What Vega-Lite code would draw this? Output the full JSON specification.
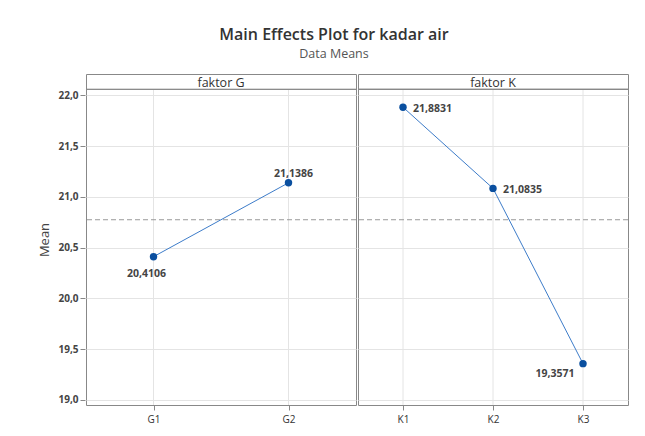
{
  "$schema": "https://vega.github.io/schema/vega-lite/v6.json",
  "padding": {"left": 38, "top": 26, "right": 17, "bottom": 5},
  "background": "white",
  "title": {
    "text": "Main Effects Plot for kadar air",
    "subtitle": "Data Means",
    "font": "Open Sans",
    "fontSize": 16,
    "fontWeight": 600,
    "color": "#333333",
    "subtitleFont": "Open Sans",
    "subtitleFontSize": 12.5,
    "subtitleColor": "#555555",
    "subtitlePadding": 5,
    "anchor": "middle",
    "offset": 13
  },
  "data": {
    "values": [
      {"factor": "faktor G", "level": "G1", "mean": 20.4106},
      {"factor": "faktor G", "level": "G2", "mean": 21.1386},
      {"factor": "faktor K", "level": "K1", "mean": 21.8831},
      {"factor": "faktor K", "level": "K2", "mean": 21.0835},
      {"factor": "faktor K", "level": "K3", "mean": 19.3571}
    ]
  },
  "facet": {
    "column": {
      "field": "factor",
      "type": "nominal",
      "title": null,
      "header": {
        "labelFont": "Open Sans",
        "labelFontSize": 12.5,
        "labelColor": "#333333",
        "labelPadding": -16,
        "labelBaseline": "top"
      }
    }
  },
  "spacing": 0,
  "resolve": {"scale": {"x": "independent"}},
  "spec": {
    "width": 270,
    "height": 331,
    "layer": [
      {
        "mark": {"type": "rule", "color": "#e4e4e4", "strokeWidth": 1},
        "encoding": {
          "x": {
            "field": "level",
            "type": "nominal",
            "scale": {"type": "point", "padding": 0.5},
            "axis": {
              "title": null,
              "grid": false,
              "domain": false,
              "labelAngle": 0,
              "labelFont": "Open Sans",
              "labelFontSize": 10,
              "labelColor": "#333333",
              "tickColor": "#888888",
              "tickSize": 5,
              "labelPadding": 4
            }
          },
          "y": {
            "datum": 18.95,
            "type": "quantitative",
            "scale": {"domain": [18.95, 22.21], "nice": false, "zero": false},
            "axis": {
              "title": "Mean",
              "titleFont": "Open Sans",
              "titleFontSize": 13,
              "titleFontWeight": "normal",
              "titleColor": "#444444",
              "titlePadding": 6,
              "values": [19, 19.5, 20, 20.5, 21, 21.5, 22],
              "format": ".1f",
              "labelFont": "Open Sans",
              "labelFontSize": 10,
              "labelFontWeight": "bold",
              "labelColor": "#444444",
              "tickColor": "#888888",
              "tickSize": 5,
              "labelPadding": 2,
              "domain": false,
              "gridColor": "#e4e4e4"
            }
          },
          "y2": {"datum": 22.059}
        }
      },
      {
        "mark": {"type": "rule", "color": "#999999", "strokeDash": [5, 3], "strokeWidth": 1},
        "encoding": {
          "y": {"aggregate": "mean", "field": "mean", "type": "quantitative"}
        }
      },
      {
        "mark": {"type": "rule", "color": "#888888", "strokeWidth": 1},
        "encoding": {"y": {"datum": 22.059, "type": "quantitative"}}
      },
      {
        "mark": {"type": "line", "color": "#3d7cc9", "strokeWidth": 1},
        "encoding": {
          "x": {"field": "level", "type": "nominal"},
          "y": {"field": "mean", "type": "quantitative"}
        }
      },
      {
        "mark": {"type": "point", "filled": true, "color": "#0a4f9f", "size": 55, "opacity": 1},
        "encoding": {
          "x": {"field": "level", "type": "nominal"},
          "y": {"field": "mean", "type": "quantitative"}
        }
      },
      {
        "transform": [{"filter": "datum.level === 'G1'"}],
        "mark": {"type": "text", "font": "Open Sans", "fontSize": 10.5, "fontWeight": "bold", "color": "#444444", "align": "center", "baseline": "middle", "dx": -7, "dy": 17},
        "encoding": {
          "x": {"field": "level", "type": "nominal"},
          "y": {"field": "mean", "type": "quantitative"},
          "text": {"field": "mean", "type": "quantitative", "format": ".4f"}
        }
      },
      {
        "transform": [{"filter": "datum.level === 'G2'"}],
        "mark": {"type": "text", "font": "Open Sans", "fontSize": 10.5, "fontWeight": "bold", "color": "#444444", "align": "center", "baseline": "middle", "dx": 5, "dy": -9},
        "encoding": {
          "x": {"field": "level", "type": "nominal"},
          "y": {"field": "mean", "type": "quantitative"},
          "text": {"field": "mean", "type": "quantitative", "format": ".4f"}
        }
      },
      {
        "transform": [{"filter": "datum.level === 'K1' || datum.level === 'K2'"}],
        "mark": {"type": "text", "font": "Open Sans", "fontSize": 10.5, "fontWeight": "bold", "color": "#444444", "align": "left", "baseline": "middle", "dx": 10, "dy": 2},
        "encoding": {
          "x": {"field": "level", "type": "nominal"},
          "y": {"field": "mean", "type": "quantitative"},
          "text": {"field": "mean", "type": "quantitative", "format": ".4f"}
        }
      },
      {
        "transform": [{"filter": "datum.level === 'K3'"}],
        "mark": {"type": "text", "font": "Open Sans", "fontSize": 10.5, "fontWeight": "bold", "color": "#444444", "align": "center", "baseline": "middle", "dx": -28, "dy": 10},
        "encoding": {
          "x": {"field": "level", "type": "nominal"},
          "y": {"field": "mean", "type": "quantitative"},
          "text": {"field": "mean", "type": "quantitative", "format": ".4f"}
        }
      }
    ]
  },
  "config": {
    "locale": {
      "number": {"decimal": ",", "thousands": ".", "grouping": [3], "currency": ["", ""]}
    },
    "view": {"stroke": "#888888", "strokeWidth": 1},
    "axis": {"grid": true}
  }
}
